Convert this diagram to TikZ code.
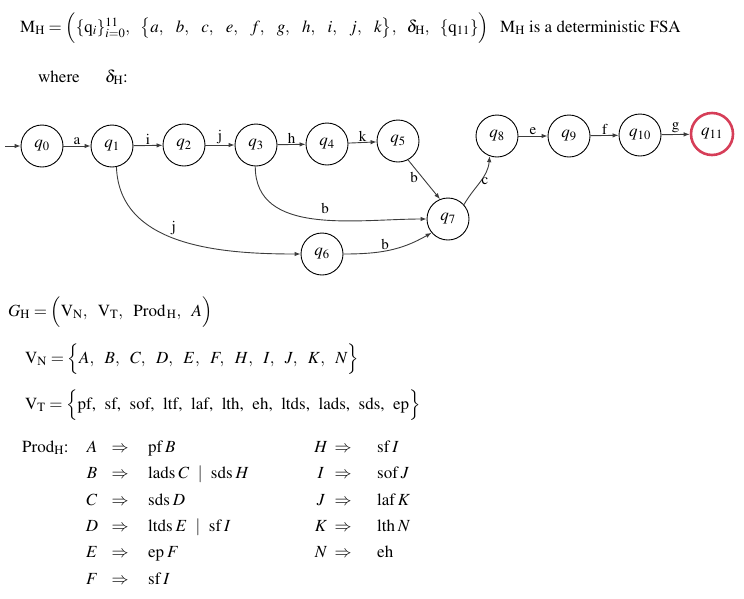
\documentclass[tikz,border=0pt]{standalone}
\usepackage[T1]{fontenc}
\usepackage{mathptmx}
\usetikzlibrary{arrows.meta,calc}

\definecolor{finalred}{RGB}{214,62,88}
\definecolor{linegray}{RGB}{60,60,60}

\tikzset{
 state/.style={circle, draw=black, line width=.9pt, minimum size=42pt, inner sep=0pt, font=\fontsize{17}{20}\selectfont},
 final/.style={state, draw=finalred, line width=2.6pt},
 edge/.style={draw=linegray, line width=.9pt, -{Latex[length=6pt,width=4.5pt]}},
 lbl/.style={font=\fontsize{15}{18}\selectfont, inner sep=2pt},
 txt/.style={anchor=mid west, inner sep=0pt, font=\fontsize{17}{20}\selectfont},
 sym/.style={anchor=mid, inner sep=0pt, font=\fontsize{17}{20}\selectfont}
}

\begin{document}
\begin{tikzpicture}[x=1pt,y=1pt]
\useasboundingbox (0,0) rectangle (744,-598);

% the machine
\node[txt] (mdef) at (20,-30) {$\mathrm{M}_{\mathrm{H}}=\Bigl(\{\mathrm{q}_i\}_{i=0}^{11},\ \ \bigl\{a,\ \ \,b,\ \ \,c,\ \ \,e,\ \ \,f,\ \ \,g,\ \ \,h,\ \ \,i,\ \ \,j,\ \ \,k\bigr\},\ \ \delta_{\mathrm{H}},\ \ \{\mathrm{q}_{11}\}\Bigr)$};
\node[txt] (mnote) at (500,-30) {M$_{\mathrm{H}}$ is a deterministic FSA};
\node[txt] (where) at (38,-80) {where\quad\ \ $\delta_{\mathrm{H}}$:};

% states
\node[state] (q0) at (42,-146) {$q_0$};
\node[state] (q1) at (112,-146) {$q_1$};
\node[state] (q2) at (184,-145) {$q_2$};
\node[state] (q3) at (256,-145) {$q_3$};
\node[state] (q4) at (327,-144) {$q_4$};
\node[state] (q5) at (398,-141) {$q_5$};
\node[state] (q6) at (322,-254) {$q_6$};
\node[state] (q7) at (448,-219) {$q_7$};
\node[state] (q8) at (497,-136) {$q_8$};
\node[state] (q9) at (569,-136) {$q_9$};
\node[state] (q10) at (640,-135) {$q_{10}$};
\node[final] (q11) at (712,-134) {$q_{11}$};
\coordinate (start) at (5,-146);

% transitions
\draw[edge] (start) -- (q0);
\foreach \a/\b/\l in {q0/q1/a, q1/q2/i, q2/q3/j, q3/q4/h, q4/q5/k, q8/q9/e, q9/q10/f, q10/q11/g}
 \draw[edge] (\a) -- node[lbl, above, yshift=-1] {\l} (\b);
\draw[edge] (q5.-62) -- node[lbl, left, pos=.45, xshift=-2] {b} (q7.112);
\draw[edge] (q1.-78) to[out=-88, in=180] node[lbl, above, pos=.5, xshift=-6, yshift=3] {j} (q6.west);
\draw[edge] (q3.-92) to[out=-90, in=180] node[lbl, above, pos=.55, yshift=4] {b} (q7.west);
\draw[edge] (q6.east) to[out=0, in=-150] node[lbl, above, pos=.45, yshift=-1] {b} (q7.-140);
\draw[edge] (q7.42) to[out=60, in=-95] node[lbl, right, pos=.5, xshift=-1] {c} (q8.-110);

% the grammar
\node[txt] (gdef) at (8,-314) {$G_{\mathrm{H}}=\Bigl(\mathrm{V}_{\mathrm{N}},\ \ \mathrm{V}_{\mathrm{T}},\ \ \mathrm{Prod}_{\,\mathrm{H}},\ \ A\Bigr)$};
\node[txt] (vn) at (25,-361) {$\mathrm{V}_{\mathrm{N}}=\Bigl\{A,\ \ B,\ \ C,\ \ D,\ \ E,\ \ F,\ \ H,\ \ I,\ \ J,\ \ K,\ \ N\Bigr\}$};
\node[txt] (vt) at (25,-407) {$\mathrm{V}_{\mathrm{T}}=\Bigl\{$pf,\ \ sf,\ \ sof,\ \ ltf,\ \ laf,\ \ lth,\ \ eh,\ \ ltds,\ \ lads,\ \ sds,\ \ ep$\Bigr\}$};
\node[txt] (prod) at (22,-450) {Prod$_{\mathrm{H}}$:};

\foreach \lhs/\rhs [count=\r from 0] in {A/{pf\,$B$}, B/{lads\,$C$\ \ $|$\ \ sds\,$H$}, C/{sds\,$D$}, D/{ltds\,$E$\ \ $|$\ \ sf\,$I$}, E/{ep\,$F$}, F/{sf\,$I$}} {
 \node[sym] (pl\r) at (92,{-450-26.4*\r}) {$\lhs$};
 \node[sym] (pa\r) at (120,{-450-26.4*\r}) {$\Rightarrow$};
 \node[txt] (pr\r) at (148,{-450-26.4*\r}) {\rhs};
}
\foreach \lhs/\rhs [count=\r from 0] in {H/{sf\,$I$}, I/{sof\,$J$}, J/{laf\,$K$}, K/{lth\,$N$}, N/{eh}} {
 \node[sym] (ql\r) at (321,{-450-26.4*\r}) {$\lhs$};
 \node[sym] (qa\r) at (343,{-450-26.4*\r}) {$\Rightarrow$};
 \node[txt] (qr\r) at (377,{-450-26.4*\r}) {\rhs};
}
\end{tikzpicture}
\end{document}
